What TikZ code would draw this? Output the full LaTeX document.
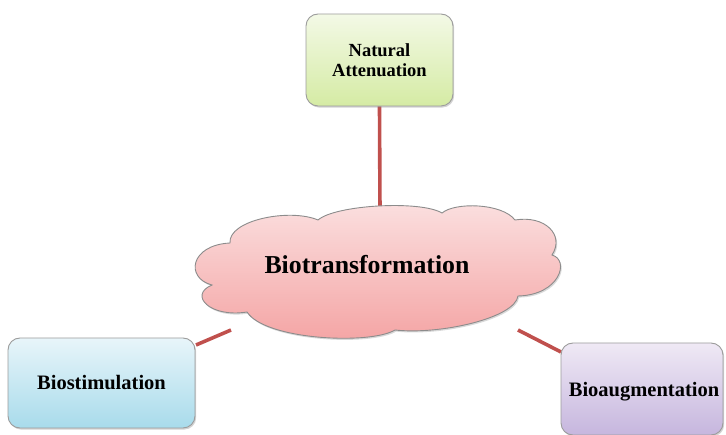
\documentclass[tikz,border=0pt]{standalone}
\usepackage{fontspec}
\setmainfont{Liberation Serif}
\usetikzlibrary{shadows,backgrounds}
\definecolor{linkred}{HTML}{C0504D}
\definecolor{edgegray}{HTML}{9C9C9C}
\definecolor{natop}{HTML}{F3F9E6}
\definecolor{nabot}{HTML}{D5EBA4}
\definecolor{bstop}{HTML}{E8F5FA}
\definecolor{bsbot}{HTML}{A8DBEB}
\definecolor{batop}{HTML}{EFE9F5}
\definecolor{babot}{HTML}{C6B6DE}
\definecolor{bttop}{HTML}{FBE0E0}
\definecolor{btbot}{HTML}{F4A3A3}
\tikzset{
  box/.style={draw=edgegray, line width=0.9pt, rounded corners=12pt,
    align=center, inner sep=2pt,
    font=\fontsize{20.5}{21}\selectfont\bfseries,
    drop shadow={opacity=0.35, shadow xshift=1.2pt, shadow yshift=-1.6pt}},
  link/.style={draw=linkred, line width=3.6pt},
  cloudfill/.style={draw=edgegray!90!black, line width=0.9pt,
    top color=bttop, bottom color=btbot,
    drop shadow={opacity=0.3, shadow xshift=1.2pt, shadow yshift=-1.6pt}},
}
\begin{document}
\begin{tikzpicture}[x=1pt,y=-1pt]
\useasboundingbox (0,0) rectangle (726,435);
\node[box, minimum width=147pt, minimum height=92pt,
  font=\fontsize{18.5}{19.5}\selectfont\bfseries,
  top color=natop, bottom color=nabot] (na) at (379.5,60) {Natural\\Attenuation};
\node[box, minimum width=187pt, minimum height=90pt,
  top color=bstop, bottom color=bsbot] (bs) at (101.5,383) {Biostimulation};
\node[box, minimum width=162pt, minimum height=92pt, text depth=0pt,
  top color=batop, bottom color=babot] (ba) at (642,389) {\hspace*{4pt}Bioaugmentation};
% cloud outline
\path[cloudfill] (230,243)
  .. controls (228,220) and (290,208) .. (318,220)
  .. controls (335,205) and (420,200) .. (442,213)
  .. controls (455,202) and (502,203) .. (515,220)
  .. controls (545,215) and (565,235) .. (552,255)
  .. controls (570,260) and (560,295) .. (518,296)
  .. controls (515,318) and (440,335) .. (395,330)
  .. controls (370,345) and (265,340) .. (247,312)
  .. controls (210,318) and (188,295) .. (212,285)
  .. controls (185,278) and (190,245) .. (230,243) -- cycle;
\node[font=\fontsize{25.8}{26}\selectfont\bfseries] (bt) at (367,265) {Biotransformation};
\coordinate (ctop) at (380,212);
\coordinate (cleft) at (231,330);
\coordinate (cright) at (518,330);
\coordinate (bscorner) at (196,345);
\coordinate (baedge) at (561,352);
\begin{scope}[on background layer]
\draw[link] (na.south) -- (ctop);
\draw[link] (bscorner) -- (cleft);
\draw[link] (cright) -- (baedge);
\end{scope}
\end{tikzpicture}
\end{document}
